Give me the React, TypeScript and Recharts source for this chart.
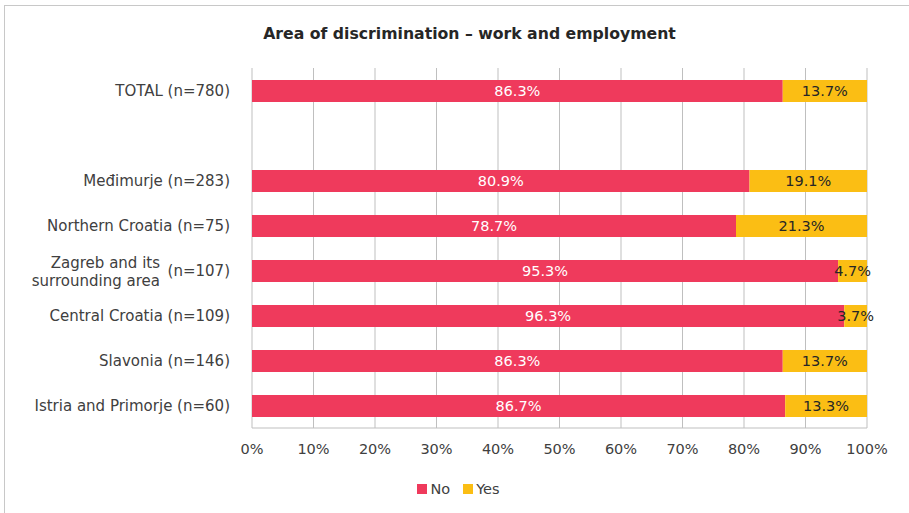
import React from "react";
import { BarChart, Bar, XAxis, YAxis, CartesianGrid, Legend, LabelList } from "recharts";

const categories = [
  "TOTAL",
  "",
  "Međimurje",
  "Northern Croatia",
  "Zagreb and its\nsurrounding area",
  "Central Croatia",
  "Slavonia",
  "Istria and Primorje",
];
const sampleSizes: (number | null)[] = [780, null, 283, 75, 107, 109, 146, 60];
const noValues: (number | null)[] = [86.3, null, 80.9, 78.7, 95.3, 96.3, 86.3, 86.7];
const yesValues: (number | null)[] = [13.7, null, 19.1, 21.3, 4.7, 3.7, 13.7, 13.3];
const xTicks = [0, 10, 20, 30, 40, 50, 60, 70, 80, 90, 100];

const RED = "#EF3A5C";
const YELLOW = "#FBBE14";
const FONT = "'DejaVu Sans', sans-serif";

const data = categories.map((c, i) => ({
  key: `cat${i}`,
  name: c,
  n: sampleSizes[i],
  No: noValues[i],
  Yes: yesValues[i],
}));

const CategoryTick = (props: any) => {
  const { x, y, payload } = props;
  const idx = data.findIndex((d) => d.key === payload.value);
  const d = data[idx];
  if (!d || !d.name) return null;
  const nLabel = `(n=${d.n})`;
  const lines = d.name.split("\n");
  if (lines.length === 1) {
    return (
      <text x={x} y={y} dy="0.35em" textAnchor="end" fontSize={15} fill="#404040" fontFamily={FONT}>
        {`${d.name} ${nLabel}`}
      </text>
    );
  }
  return (
    <g>
      <text x={x} y={y} dy="0.35em" textAnchor="end" fontSize={15} fill="#404040" fontFamily={FONT}>
        {nLabel}
      </text>
      <text x={x - 70} y={y} textAnchor="end" fontSize={15} fill="#404040" fontFamily={FONT}>
        {lines.map((l: string, i: number) => (
          <tspan key={i} x={x - 70} dy={i === 0 ? "-0.15em" : "1.2em"}>
            {l}
          </tspan>
        ))}
      </text>
    </g>
  );
};

const fmt = (v: any) => (v == null ? "" : `${Number(v).toFixed(1)}%`);

const LegendContent = () => (
  <div
    style={{
      display: "flex",
      justifyContent: "center",
      alignItems: "center",
      fontFamily: FONT,
      fontSize: 14.5,
      lineHeight: "18px",
      color: "#404040",
      paddingLeft: 50,
      paddingTop: 22,
    }}
  >
    <span style={{ display: "inline-block", width: 10, height: 10, background: RED, marginRight: 3 }} />
    <span style={{ marginRight: 13 }}>No</span>
    <span style={{ display: "inline-block", width: 10, height: 10, background: YELLOW, marginRight: 3 }} />
    <span>Yes</span>
  </div>
);

export default function App() {
  return (
    <div style={{ position: "absolute", left: 0, top: 0, width: 909, height: 513, background: "#fff", overflow: "hidden" }}>
      <div
        style={{
          position: "absolute",
          left: 4,
          top: 5,
          width: 940,
          height: 540,
          border: "1px solid #c8c8c8",
        }}
      />
      <div
        style={{
          position: "absolute",
          left: 0,
          width: 939,
          top: 24,
          textAlign: "center",
          fontFamily: FONT,
          fontWeight: 700,
          fontSize: 15.7,
          color: "#262626",
        }}
      >
        Area of discrimination – work and employment
      </div>
      <div style={{ position: "absolute", left: 0, top: 0 }}>
        <BarChart
          width={909}
          height={513}
          data={data}
          layout="vertical"
          margin={{ top: 68, right: 42, bottom: 13, left: 0 }}
          barSize={22}
        >
          <CartesianGrid horizontal={false} vertical={true} stroke="#bfbfbf" />
          <XAxis
            type="number"
            domain={[0, 100]}
            ticks={xTicks}
            tickFormatter={(v) => `${v}%`}
            axisLine={{ stroke: "#bfbfbf" }}
            tickLine={false}
            tickSize={6}
            tickMargin={10}
            height={30}
            tick={{ fontSize: 14.5, fill: "#404040", fontFamily: FONT }}
            interval={0}
          />
          <YAxis
            type="category"
            dataKey="key"
            width={252}
            axisLine={false}
            tickLine={false}
            tickSize={0}
            tickMargin={22}
            tick={<CategoryTick />}
            interval={0}
          />
          <Legend content={<LegendContent />} verticalAlign="bottom" height={42} />
          <Bar dataKey="No" stackId="a" fill={RED} isAnimationActive={false}>
            <LabelList dataKey="No" position="center" formatter={fmt} fill="#ffffff" fontSize={14.5} fontFamily={FONT} />
          </Bar>
          <Bar dataKey="Yes" stackId="a" fill={YELLOW} isAnimationActive={false}>
            <LabelList dataKey="Yes" position="center" formatter={fmt} fill="#262626" fontSize={14.5} fontFamily={FONT} />
          </Bar>
        </BarChart>
      </div>
    </div>
  );
}
